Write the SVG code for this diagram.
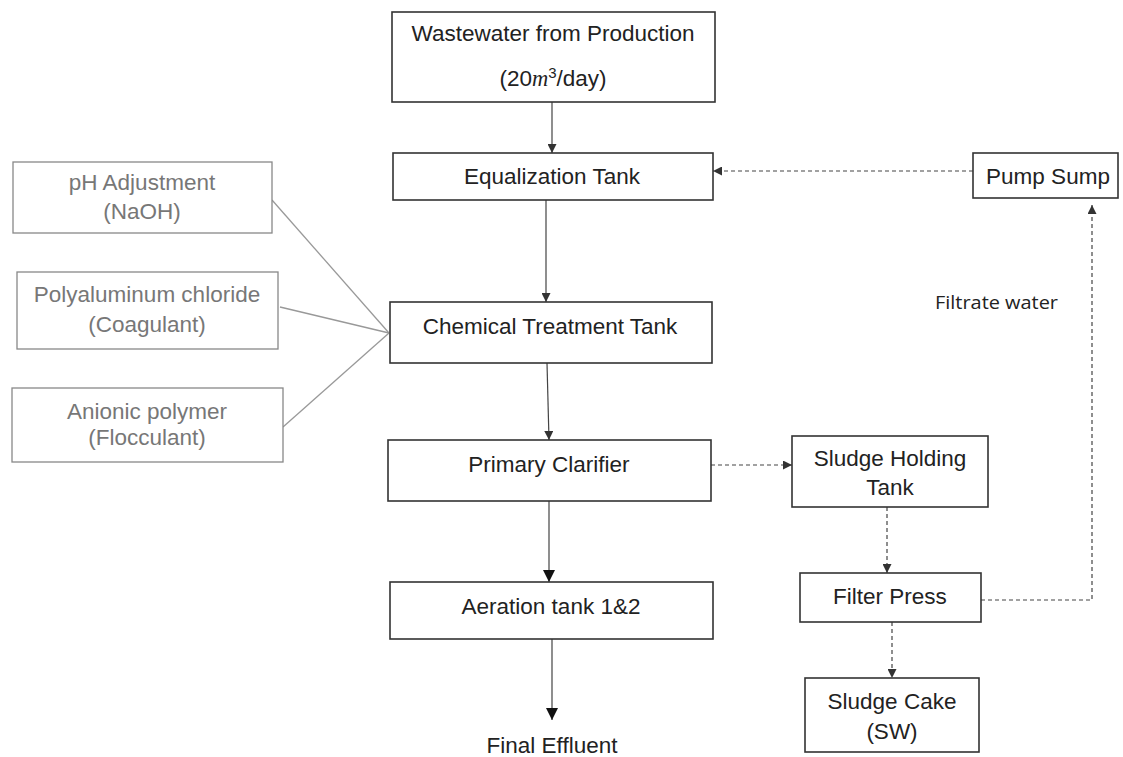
<svg xmlns="http://www.w3.org/2000/svg" width="1123" height="757" viewBox="0 0 1123 757">
<defs>
<marker id="ah" viewBox="0 0 10 10" refX="10" refY="5" markerWidth="9" markerHeight="9" markerUnits="userSpaceOnUse" orient="auto"><path d="M0,0 L10,5 L0,10 z" fill="#333"/></marker>
<marker id="ahb" viewBox="0 0 10 10" refX="10" refY="5" markerWidth="12" markerHeight="12" markerUnits="userSpaceOnUse" orient="auto"><path d="M0,0 L10,5 L0,10 z" fill="#111"/></marker>
</defs>
<style>
.box{fill:#fff;stroke:#333;stroke-width:1.6}
.gbox{fill:#fff;stroke:#888;stroke-width:1.3}
.t{font-family:"Liberation Sans",Arial,sans-serif;font-size:22.5px;fill:#222;text-anchor:middle}
.g{fill:#777}
.c{fill:none;stroke:#444;stroke-width:1.2}
.cg{fill:none;stroke:#999;stroke-width:1.3}
.d{fill:none;stroke:#444;stroke-width:1.2;stroke-dasharray:4 3}
.lbl{font-family:"Open Sans","Noto Sans",sans-serif;font-size:18px;fill:#222}
</style>
<rect width="1123" height="757" fill="#fff"/>
<g id="connectors">
<line class="c" x1="552" y1="102" x2="552" y2="153" marker-end="url(#ah)"/>
<line class="c" x1="546" y1="200" x2="546" y2="302" marker-end="url(#ah)"/>
<line class="c" x1="547" y1="363" x2="549" y2="440" marker-end="url(#ah)"/>
<line class="c" x1="549" y1="501" x2="549" y2="582" stroke="#111" stroke-width="1.6" marker-end="url(#ahb)"/>
<line class="c" x1="552" y1="639" x2="552" y2="720" marker-end="url(#ahb)"/>
<line class="cg" x1="272" y1="200" x2="389" y2="333"/>
<line class="cg" x1="280" y1="307" x2="389" y2="333"/>
<line class="cg" x1="283" y1="427" x2="389" y2="333"/>
<line class="d" x1="973" y1="171" x2="713" y2="171" marker-end="url(#ah)"/>
<line class="d" x1="711" y1="465" x2="792" y2="465" marker-end="url(#ah)"/>
<line class="d" x1="887" y1="507" x2="887" y2="573" marker-end="url(#ah)"/>
<line class="d" x1="892" y1="622" x2="892" y2="678" marker-end="url(#ah)"/>
<polyline class="d" points="981,600 1092,600 1092,205" marker-end="url(#ah)"/>
</g>
<g id="wastewater">
<rect class="box" x="392" y="12" width="323" height="90"/>
<text class="t" x="553" y="41">Wastewater from Production</text>
<text class="t" x="553" y="86">(20<tspan font-family="Liberation Serif,serif" font-style="italic">m</tspan><tspan font-size="15" dy="-8">3</tspan><tspan dy="8">/day)</tspan></text>
</g>
<g id="equalization">
<rect class="box" x="393" y="153" width="320" height="47"/>
<text class="t" x="552" y="184">Equalization Tank</text>
</g>
<g id="chemical">
<rect class="box" x="390" y="302" width="322" height="61"/>
<text class="t" x="550" y="334">Chemical Treatment Tank</text>
</g>
<g id="clarifier">
<rect class="box" x="388" y="440" width="323" height="61"/>
<text class="t" x="549" y="472">Primary Clarifier</text>
</g>
<g id="aeration">
<rect class="box" x="390" y="582" width="323" height="57"/>
<text class="t" x="551" y="614">Aeration tank 1&amp;2</text>
</g>
<g id="effluent">
<text class="t" x="552" y="753">Final Effluent</text>
</g>
<g id="ph">
<rect class="gbox" x="13" y="162" width="259" height="71"/>
<text class="t g" x="142" y="190">pH Adjustment</text>
<text class="t g" x="142" y="219">(NaOH)</text>
</g>
<g id="pac">
<rect class="gbox" x="17" y="272" width="261" height="77"/>
<text class="t g" x="147" y="302">Polyaluminum chloride</text>
<text class="t g" x="147" y="332">(Coagulant)</text>
</g>
<g id="polymer">
<rect class="gbox" x="12" y="388" width="271" height="74"/>
<text class="t g" x="147" y="419">Anionic polymer</text>
<text class="t g" x="147" y="445">(Flocculant)</text>
</g>
<g id="pumpsump">
<rect class="box" x="973" y="153" width="145" height="45"/>
<text class="t" x="1048" y="184">Pump Sump</text>
</g>
<g id="filtrate">
<text class="lbl" x="935" y="309" textLength="123" lengthAdjust="spacingAndGlyphs">Filtrate water</text>
</g>
<g id="sludgeholding">
<rect class="box" x="792" y="436" width="196" height="71"/>
<text class="t" x="890" y="466">Sludge Holding</text>
<text class="t" x="890" y="495">Tank</text>
</g>
<g id="filterpress">
<rect class="box" x="800" y="573" width="181" height="49"/>
<text class="t" x="890" y="604">Filter Press</text>
</g>
<g id="sludgecake">
<rect class="box" x="805" y="678" width="174" height="74"/>
<text class="t" x="892" y="709">Sludge Cake</text>
<text class="t" x="892" y="739">(SW)</text>
</g>
</svg>
